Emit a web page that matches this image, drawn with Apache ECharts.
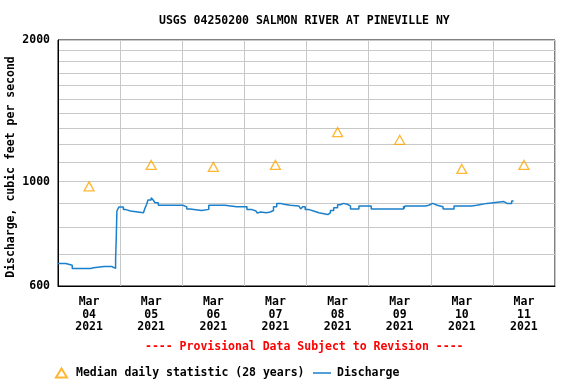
<!DOCTYPE html>
<html>
<head>
<meta charset="utf-8">
<script src="https://cdn.jsdelivr.net/npm/echarts@6/dist/echarts.min.js"></script>
<style>html,body{margin:0;padding:0;background:#fff}#c{width:576px;height:384px}</style>
</head>
<body>
<div id="c"></div>
<script>
// ---- data ----
var titleText = 'USGS 04250200 SALMON RIVER AT PINEVILLE NY';
var yAxisName = 'Discharge, cubic feet per second';
var noteText = '---- Provisional Data Subject to Revision ----';
var medianName = 'Median daily statistic (28 years)';
var dischargeName = 'Discharge';

var dayLabels = ['04', '05', '06', '07', '08', '09', '10', '11'];
var yLabelValues = [600, 1000, 2000];
var yGridValues = [600, 700, 800, 900, 1000, 1100, 1200, 1300, 1400, 1500, 1600, 1700, 1800, 1900, 2000];

var medianTimes = ['2021-03-04 12:00', '2021-03-05 12:00', '2021-03-06 12:00', '2021-03-07 12:00',
                   '2021-03-08 12:00', '2021-03-09 12:00', '2021-03-10 12:00', '2021-03-11 12:00'];
var medianValues = [977, 1085, 1075, 1085, 1274, 1227, 1064, 1085];

var dischargeTimes = [
 '2021-03-04 00:00','2021-03-04 03:00','2021-03-04 05:30','2021-03-04 12:30','2021-03-04 13:15','2021-03-04 13:45',
 '2021-03-04 17:45','2021-03-04 18:30','2021-03-04 20:45','2021-03-04 22:15','2021-03-04 22:30','2021-03-04 22:45',
 '2021-03-04 23:30','2021-03-05 01:15','2021-03-05 02:15','2021-03-05 04:00','2021-03-05 09:00','2021-03-05 09:30',
 '2021-03-05 10:15','2021-03-05 10:45','2021-03-05 12:00','2021-03-05 12:45','2021-03-05 13:30','2021-03-05 14:45',
 '2021-03-06 00:15','2021-03-06 01:45','2021-03-06 03:00','2021-03-06 07:30','2021-03-06 10:15','2021-03-06 16:30',
 '2021-03-06 21:00','2021-03-06 21:15','2021-03-07 01:00','2021-03-07 03:00','2021-03-07 04:30','2021-03-07 05:00',
 '2021-03-07 05:30','2021-03-07 06:15','2021-03-07 08:30','2021-03-07 10:00','2021-03-07 11:15','2021-03-07 12:30',
 '2021-03-07 14:00','2021-03-07 14:15','2021-03-07 14:30','2021-03-07 15:15','2021-03-07 17:45','2021-03-07 21:00',
 '2021-03-07 21:45','2021-03-07 22:30','2021-03-07 23:30','2021-03-08 01:00','2021-03-08 02:45','2021-03-08 04:45',
 '2021-03-08 08:15','2021-03-08 09:15','2021-03-08 10:30','2021-03-08 12:00','2021-03-08 13:00','2021-03-08 14:15',
 '2021-03-08 15:45','2021-03-08 17:00','2021-03-08 20:15','2021-03-09 01:00','2021-03-09 13:30','2021-03-09 13:45',
 '2021-03-09 14:00','2021-03-09 22:00','2021-03-09 23:15','2021-03-10 00:45','2021-03-10 02:30','2021-03-10 04:45',
 '2021-03-10 09:00','2021-03-10 15:45','2021-03-10 17:45','2021-03-10 21:45','2021-03-11 04:15','2021-03-11 05:30',
 '2021-03-11 06:15','2021-03-11 07:15','2021-03-11 08:00'
];
var dischargeValues = [
 670, 664, 654, 660, 656, 660,
 654, 660, 654, 685, 757, 866,
 883, 872, 866, 859, 866, 875,
 895, 914, 924, 914, 902, 891,
 884, 875, 868, 873, 891, 884,
 888, 884, 872, 866, 862, 857,
 862, 859, 862, 868, 884, 899,
 895, 902, 895, 891, 888, 884,
 875, 884, 872, 866, 859, 851,
 859, 868, 880, 893, 899, 895,
 888, 875, 888, 875, 888, 877,
 888, 891, 899, 891, 884, 875,
 888, 891, 899, 907, 899, 903,
 899, 909, 907
];

var startTime = '2021-03-04 00:00';   // left edge of the plot
var spanHours = 192;                  // 8 days shown
var dayHours = 24;

// ---- chart ----
function hoursSince(s) {
  var p = s.split(/[- :]/), q = startTime.split(/[- :]/);
  var a = Date.UTC(+p[0], +p[1] - 1, +p[2], +p[3], +p[4]);
  var b = Date.UTC(+q[0], +q[1] - 1, +q[2], +q[3], +q[4]);
  return (a - b) / 3600000;
}
var font = 'DejaVu Sans Mono';
var fs = 11.5;
var dischargeData = dischargeTimes.map(function (t, i) { return [hoursSince(t), dischargeValues[i]]; });
var medianData = medianTimes.map(function (t, i) { return [hoursSince(t), medianValues[i]]; });
var labelPos = medianTimes.map(hoursSince);

var chart = echarts.init(document.getElementById('c'), null, { renderer: 'canvas' });
chart.setOption({
  animation: false,
  backgroundColor: '#fff',
  title: {
    text: titleText, left: 159, top: 15.5, padding: 0,
    textStyle: { fontFamily: font, fontWeight: 'bold', fontSize: fs, color: '#000' }
  },
  graphic: [{
    type: 'text', left: 145, top: 341,
    style: { text: noteText, fill: '#ff0000', font: 'bold ' + fs + 'px "' + font + '"' }
  }],
  legend: [{
    data: [{ name: medianName, icon: 'triangle' }],
    left: 55, top: 367, padding: 0,
    itemWidth: 11, itemHeight: 9,
    textStyle: { fontFamily: font, fontWeight: 'bold', fontSize: fs, color: '#000', padding: [0, 0, 0, 4] }
  }, {
    data: [{ name: dischargeName, icon: 'path://M0,0L12,0L12,1L0,1Z' }],
    left: 313, top: 367, padding: 0,
    itemWidth: 18, itemHeight: 1.5,
    textStyle: { fontFamily: font, fontWeight: 'bold', fontSize: fs, color: '#000', padding: [0, 0, 0, 1] }
  }],
  grid: { left: 58, right: 21, top: 40, bottom: 98, show: true, borderColor: '#000', borderWidth: 1,
          containLabel: false, outerBoundsMode: 'none' },
  xAxis: {
    type: 'value', min: 0, max: spanHours, interval: dayHours,
    axisLine: { show: true, lineStyle: { color: '#000', width: 1 } },
    axisTick: { show: false },
    splitLine: { show: true, lineStyle: { color: '#c8c8c8', width: 1 } },
    axisLabel: {
      customValues: labelPos,
      margin: 10,
      fontFamily: font, fontWeight: 'bold', fontSize: fs, color: '#000', lineHeight: 12.5,
      formatter: function (v) {
        var i = Math.floor(v / dayHours);
        return 'Mar\n' + dayLabels[i] + '\n2021';
      }
    }
  },
  yAxis: {
    type: 'log', logBase: 10, min: 600, max: 2000,
    name: yAxisName, nameLocation: 'middle', nameGap: 41, nameRotate: 90, nameMoveOverlap: false,
    nameTextStyle: { fontFamily: font, fontWeight: 'bold', fontSize: fs, color: '#000', padding: [0, 8, 0, 0] },
    axisLine: { show: true, lineStyle: { color: '#000', width: 1 } },
    axisTick: { show: false, customValues: yGridValues },
    splitLine: { show: true, lineStyle: { color: '#c8c8c8', width: 1 } },
    axisLabel: {
      customValues: yLabelValues, margin: 8,
      fontFamily: font, fontWeight: 'bold', fontSize: fs, color: '#000',
      formatter: function (v) { return String(Math.round(v)); }
    }
  },
  series: [{
    name: medianName, type: 'scatter', data: medianData,
    symbol: 'triangle', symbolSize: [10, 9],
    itemStyle: { color: 'rgba(255,255,255,0)', borderColor: '#ffa500', borderWidth: 1.3 },
    z: 3
  }, {
    name: dischargeName, type: 'line', data: dischargeData, step: 'end',
    symbol: 'none', showSymbol: false,
    lineStyle: { color: '#1a80cc', width: 1.5 },
    itemStyle: { color: '#1a80cc' },
    z: 2
  }]
});
</script>
</body>
</html>
